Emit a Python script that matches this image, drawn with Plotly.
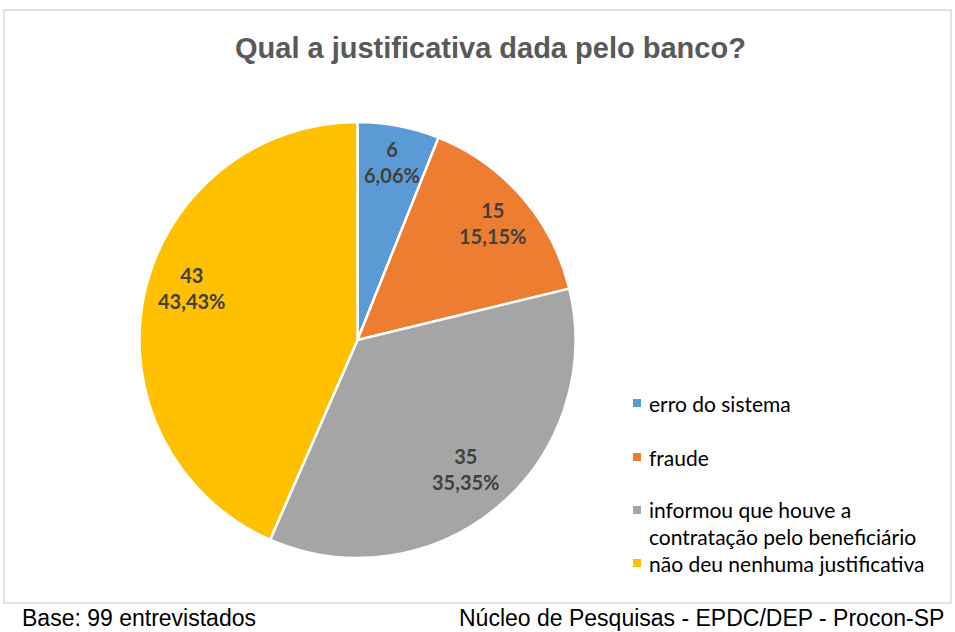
import math
import plotly.graph_objects as go

categories = ["erro do sistema", "fraude", "informou que houve a contratação pelo beneficiário", "não deu nenhuma justificativa"]
legend_labels = ["erro do sistema", "fraude", "informou que houve a<br>contratação pelo beneficiário", "não deu nenhuma justificativa"]
values = [6, 15, 35, 43]
colors = ["#5B9BD5", "#ED7D31", "#A5A5A5", "#FFC000"]

W, H = 955, 632
# pie geometry in pixels
cx, cy, R = 357.5, 340, 218

def px(x):
    return x / W

def py(y):
    return 1 - y / H

fig = go.Figure()
fig.add_trace(go.Pie(
    labels=categories,
    values=values,
    marker=dict(colors=colors, line=dict(color="white", width=2.5)),
    sort=False,
    direction="clockwise",
    rotation=0,
    textinfo="none",
    hoverinfo="label+value+percent",
    showlegend=False,
    domain=dict(x=[px(cx - R), px(cx + R)], y=[py(cy + R), py(cy - R)]),
))

annotations = []
total = sum(values)
cum = 0
rfac = [0.83, 0.82, 0.77, 0.80]
aoff = [0, 0, 0, 5.5]  # degrees, label placement tweak
for i, v in enumerate(values):
    mid = (cum + v / 2) / total * 2 * math.pi + math.radians(aoff[i])
    cum += v
    r = rfac[i] * R
    x = cx + r * math.sin(mid)
    y = cy - r * math.cos(mid)
    pct = f"{v / total * 100:.2f}".replace(".", ",") + "%"
    annotations.append(dict(
        x=px(x), y=py(y), xref="paper", yref="paper",
        text=f"<b>{v}<br>{pct}</b>", showarrow=False,
        font=dict(family="Lato", size=20, color="#404040"),
        align="center", xanchor="center", yanchor="middle",
    ))

# title
annotations.append(dict(
    x=px(490), y=py(48), xref="paper", yref="paper",
    text="<b>Qual a justificativa dada pelo banco?</b>", showarrow=False,
    font=dict(family="Arial, Liberation Sans, sans-serif", size=29, color="#595959"),
    xanchor="center", yanchor="middle",
))

# manual legend
leg_y = [403, 457, 523, 563]
shapes = []
for i, lab in enumerate(legend_labels):
    ym = leg_y[i] if i != 2 else 510
    shapes.append(dict(type="rect", xref="paper", yref="paper",
                       x0=px(633), x1=px(641), y0=py(ym + 4), y1=py(ym - 4),
                       fillcolor=colors[i], line=dict(width=0)))
    annotations.append(dict(
        x=px(647), y=py(leg_y[i]), xref="paper", yref="paper",
        text=lab, showarrow=False, align="left",
        font=dict(family="Lato", size=21, color="#000000"),
        xanchor="left", yanchor="middle",
    ))

# frame
shapes.append(dict(type="rect", xref="paper", yref="paper",
                   x0=px(4), x1=px(951), y0=py(603), y1=py(10),
                   line=dict(color="#D9D9D9", width=1.5), fillcolor="rgba(0,0,0,0)"))

# footer
annotations.append(dict(
    x=px(20), y=py(618), xref="paper", yref="paper",
    text="Base: 99 entrevistados", showarrow=False,
    font=dict(family="Arial, Liberation Sans, sans-serif", size=23, color="#000000"),
    xanchor="left", yanchor="middle",
))
annotations.append(dict(
    x=px(946), y=py(618), xref="paper", yref="paper",
    text="Núcleo de Pesquisas - EPDC/DEP - Procon-SP", showarrow=False,
    font=dict(family="Arial, Liberation Sans, sans-serif", size=23, color="#000000"),
    xanchor="right", yanchor="middle",
))

fig.update_layout(
    width=W, height=H, autosize=False,
    margin=dict(l=0, r=0, t=0, b=0),
    paper_bgcolor="white", plot_bgcolor="white",
    annotations=annotations, shapes=shapes,
    separators=",.",
)

fig.write_html("out.html")
